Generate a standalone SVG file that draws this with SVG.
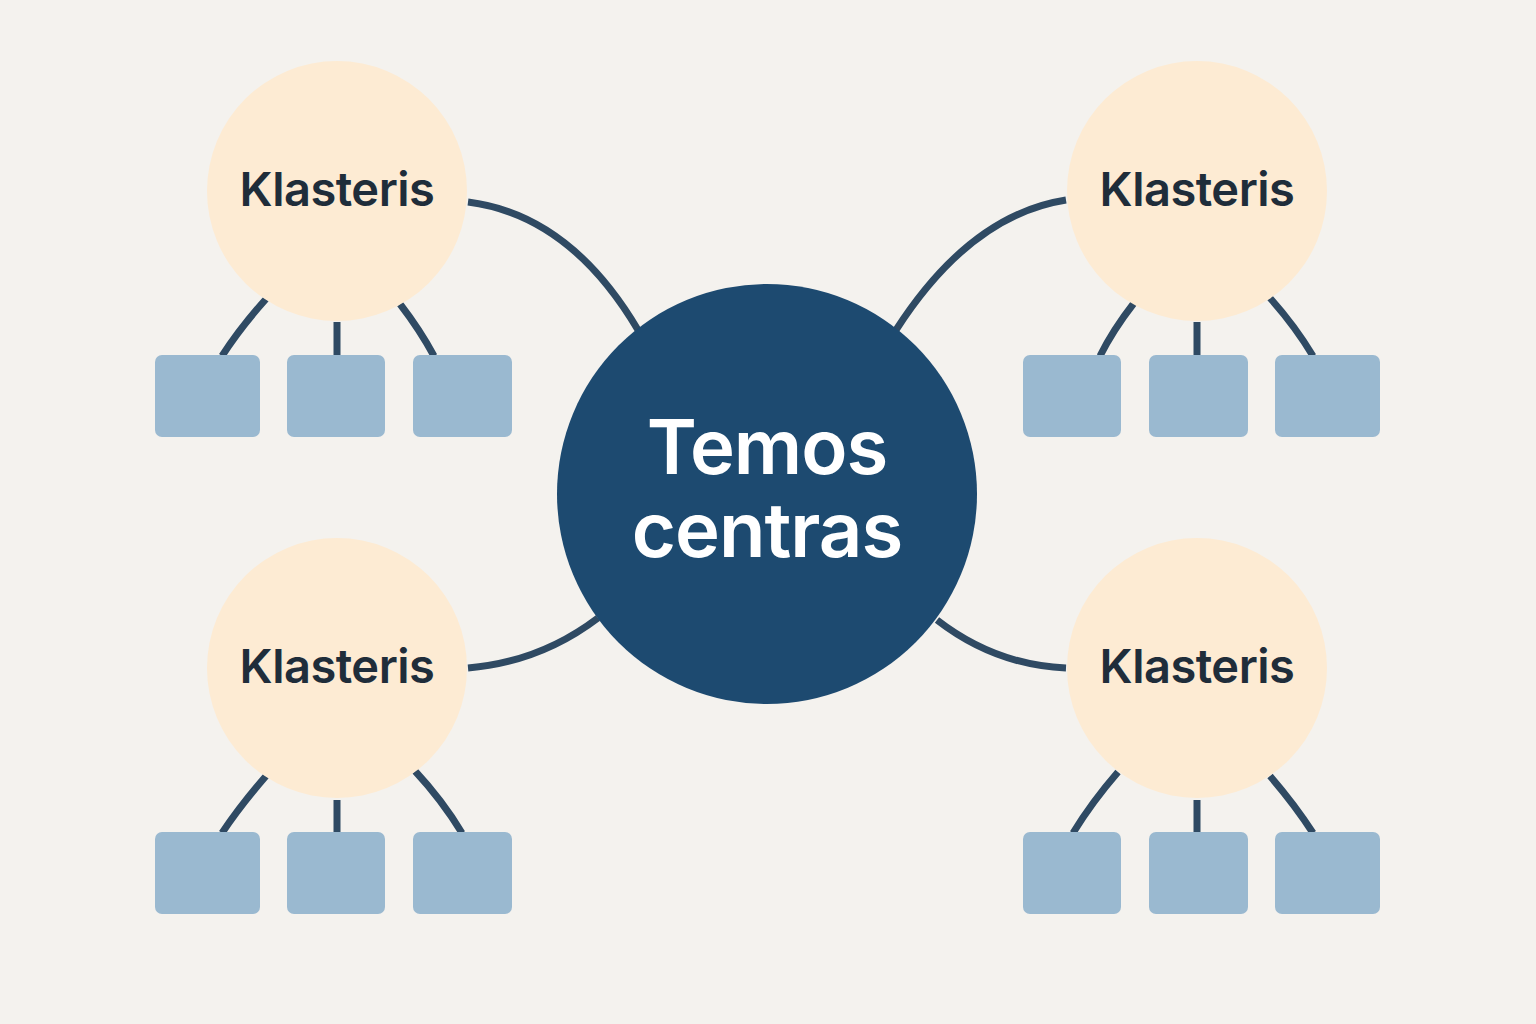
<svg xmlns="http://www.w3.org/2000/svg" width="1536" height="1024" viewBox="0 0 1536 1024">
<style>
.c{fill:#fdebd3}
.b{fill:#9ab9d0}
.l{fill:none;stroke:#2f4a63;stroke-width:7}
.k{font-family:Inter,"Liberation Sans",sans-serif;font-size:47px;font-weight:600;fill:#1f2d3a;text-anchor:middle;letter-spacing:-0.5px}
.t{font-family:Inter,"Liberation Sans",sans-serif;font-size:76px;font-weight:600;fill:#fff;text-anchor:middle;letter-spacing:-1px}
</style>
<rect width="1536" height="1024" fill="#f4f2ee"/>
<g id="connectors">
<path class="l" d="M468,202 Q570,215 638,330"/>
<path class="l" d="M1066,200 Q970,215 896,330"/>
<path class="l" d="M468,668 Q540,662 598,618"/>
<path class="l" d="M937,620 Q995,665 1066,668"/>
<path class="l" d="M266,299 Q240,328 222,356"/>
<path class="l" d="M337,322 V356"/>
<path class="l" d="M400,304 Q420,330 434,356"/>
<path class="l" d="M266,776 Q240,806 222,833"/>
<path class="l" d="M337,800 V833"/>
<path class="l" d="M415,771 Q442,800 462,833"/>
<path class="l" d="M1134,303 Q1113,330 1100,356"/>
<path class="l" d="M1197,322 V356"/>
<path class="l" d="M1270,298 Q1295,326 1313,356"/>
<path class="l" d="M1118,772 Q1092,802 1073,833"/>
<path class="l" d="M1197,800 V833"/>
<path class="l" d="M1270,776 Q1295,805 1313,833"/>
</g>
<g id="center"><circle cx="767" cy="494" r="210" fill="#1d4a70"/>
<text class="t" x="767" y="474">Temos</text><text class="t" x="767" y="557">centras</text></g>
<g id="k1"><circle class="c" cx="337" cy="191" r="130"/><text class="k" x="337" y="206">Klasteris</text></g>
<g id="k2"><circle class="c" cx="1197" cy="191" r="130"/><text class="k" x="1197" y="206">Klasteris</text></g>
<g id="k3"><circle class="c" cx="337" cy="668" r="130"/><text class="k" x="337" y="683">Klasteris</text></g>
<g id="k4"><circle class="c" cx="1197" cy="668" r="130"/><text class="k" x="1197" y="683">Klasteris</text></g>
<g id="boxes">
<rect class="b" x="155" y="355" width="105" height="82" rx="7"/>
<rect class="b" x="287" y="355" width="98" height="82" rx="7"/>
<rect class="b" x="413" y="355" width="99" height="82" rx="7"/>
<rect class="b" x="155" y="832" width="105" height="82" rx="7"/>
<rect class="b" x="287" y="832" width="98" height="82" rx="7"/>
<rect class="b" x="413" y="832" width="99" height="82" rx="7"/>
<rect class="b" x="1023" y="355" width="98" height="82" rx="7"/>
<rect class="b" x="1149" y="355" width="99" height="82" rx="7"/>
<rect class="b" x="1275" y="355" width="105" height="82" rx="7"/>
<rect class="b" x="1023" y="832" width="98" height="82" rx="7"/>
<rect class="b" x="1149" y="832" width="99" height="82" rx="7"/>
<rect class="b" x="1275" y="832" width="105" height="82" rx="7"/>
</g>
</svg>
